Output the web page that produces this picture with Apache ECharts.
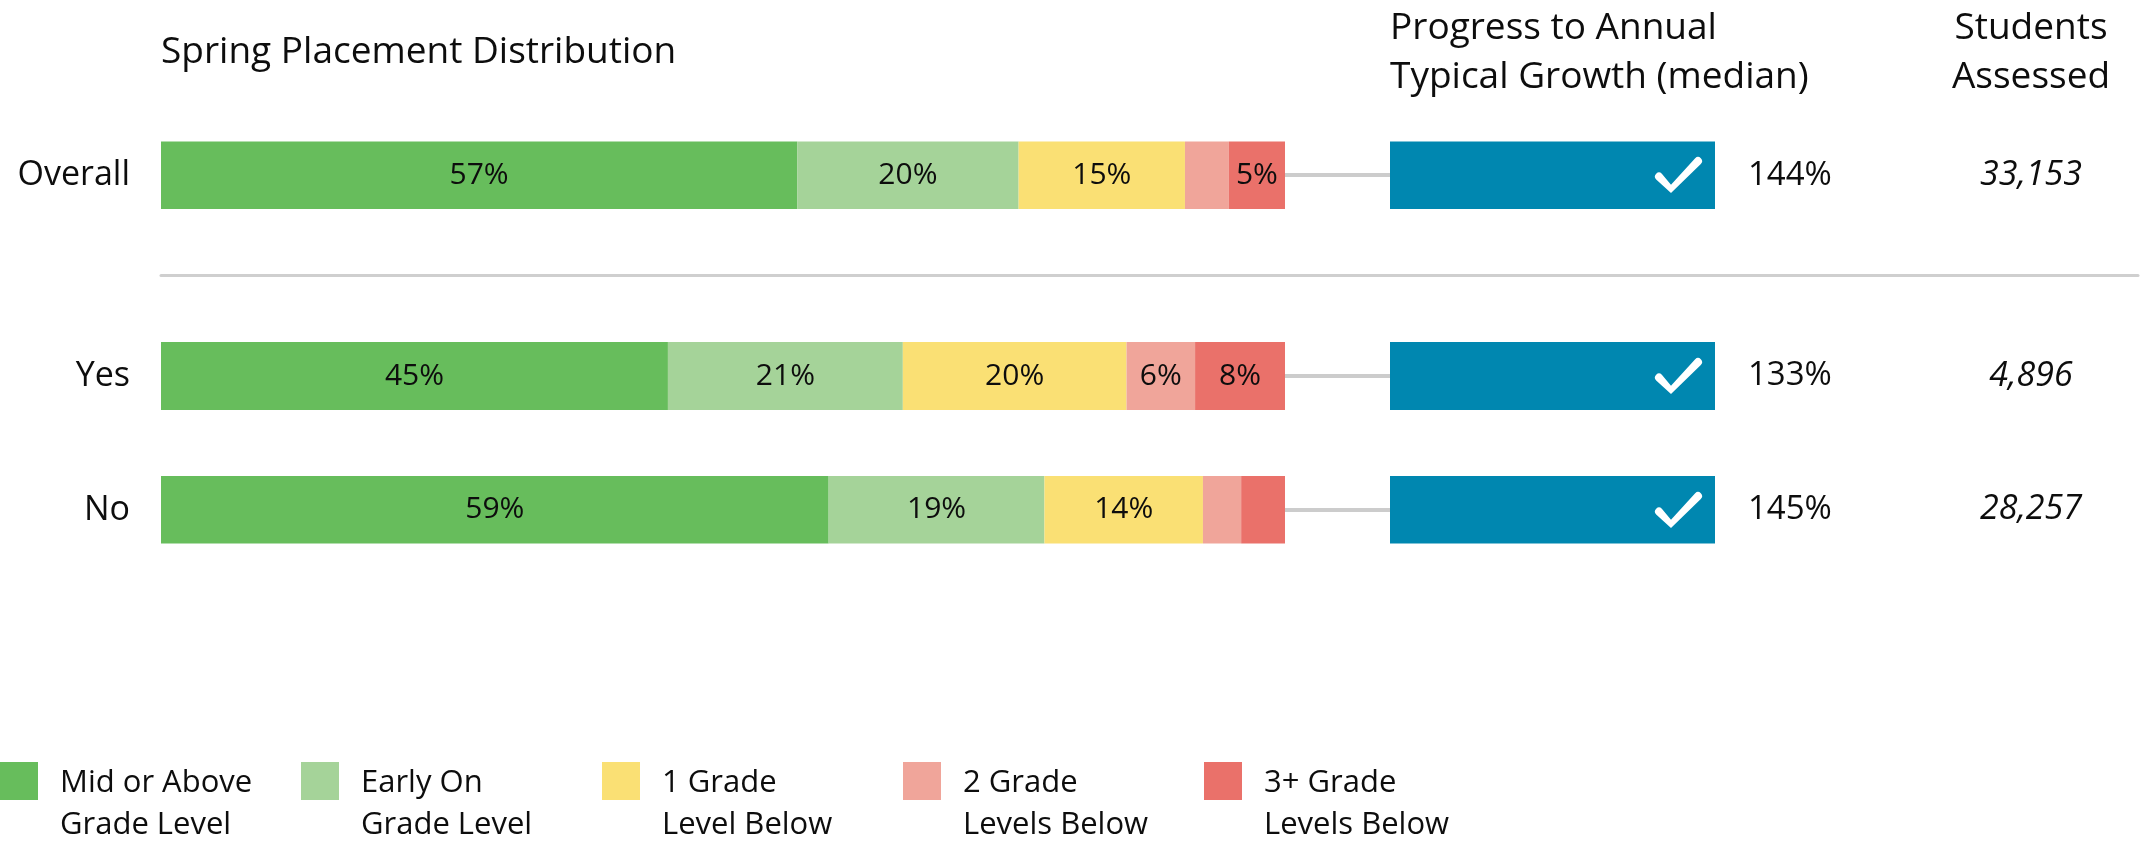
<!DOCTYPE html>
<html>
<head>
<meta charset="utf-8">
<title>Spring Placement Distribution</title>
<script src="https://cdn.jsdelivr.net/npm/echarts@6/dist/echarts.min.js"></script>
<style>
  html, body { margin: 0; padding: 0; background: #fff; }
  #chart { width: 2146px; height: 841px; }
</style>
</head>
<body>
<div id="chart"></div>
<script>
// ---- data ----
var groups = ['Overall', 'Yes', 'No'];

// placement shares (%), one entry per group
var midAbove  = [56.6, 45.1, 59.4];
var earlyOn   = [19.7, 20.9, 19.2];
var oneBelow  = [14.8, 19.9, 14.1];
var twoBelow  = [3.9, 6.1, 3.4];
var threePlus = [5.0, 8.0, 3.9];

var levelNames = [
    'Mid or Above\nGrade Level',
    'Early On\nGrade Level',
    '1 Grade\nLevel Below',
    '2 Grade\nLevels Below',
    '3+ Grade\nLevels Below'
];

var growthMedian = [144, 133, 145];      // progress to annual typical growth, %
var metTypical = [true, true, true];      // check mark shown
var studentsAssessed = [33153, 4896, 28257];

// ---- layout / style ----
// category slots on the y axis, blanks are spacers between the rows
var axisRows = ['Overall', '', '', 'Yes', '', 'No'];
var levelColors = ['#67BD5C', '#A5D399', '#FAE074', '#F0A59A', '#EA716A'];
var FONT = "'Open Sans', sans-serif";
var INK = '#0d0d0d';
var CHECK = 'path://M6.83 16.17A4 4 0 0 0 1.17 21.83L16 35L45.83 6.83A4 4 0 0 0 40.17 1.17L16 27Z';

function onRows(arr) {
    return axisRows.map(function (r) {
        var i = groups.indexOf(r);
        return i < 0 ? '-' : arr[i];
    });
}
function lookup(arr, name) {
    return arr[groups.indexOf(name)];
}

var dom = document.getElementById('chart');
var myChart = echarts.init(dom);

var levels = [midAbove, earlyOn, oneBelow, twoBelow, threePlus];
var series = levels.map(function (vals, k) {
    return {
        type: 'bar',
        name: levelNames[k],
        stack: 'placement',
        xAxisIndex: 0,
        yAxisIndex: 0,
        barWidth: 68,
        data: onRows(vals),
        itemStyle: { color: levelColors[k] },
        label: {
            show: true,
            position: 'inside',
            fontFamily: FONT,
            fontSize: 30,
            color: INK,
            formatter: function (p) {
                return p.value < 4.5 ? '' : Math.round(p.value) + '%';
            }
        }
    };
});

var ones = onRows(metTypical.map(function (m) { return m ? 1 : 0; }));

// grey connector between the two bars
series.push({
    type: 'bar',
    name: 'connector',
    xAxisIndex: 1,
    yAxisIndex: 1,
    barWidth: 4,
    silent: true,
    data: onRows(groups.map(function () { return 1; })),
    itemStyle: { color: '#cccccc' }
});

// blue "met typical growth" bar, with the growth value beside it
series.push({
    type: 'bar',
    name: 'progress',
    xAxisIndex: 2,
    yAxisIndex: 2,
    barWidth: 68,
    data: ones,
    itemStyle: { color: '#0087B0' },
    label: {
        show: true,
        position: 'right',
        distance: 33,
        fontFamily: FONT,
        fontSize: 33,
        color: INK,
        formatter: function (p) { return lookup(growthMedian, p.name) + '%'; }
    }
});
// check mark at the end of the blue bar
series.push({
    type: 'pictorialBar',
    name: 'check',
    xAxisIndex: 2,
    yAxisIndex: 2,
    silent: true,
    data: ones,
    symbol: CHECK,
    symbolSize: [47, 36],
    symbolPosition: 'end',
    symbolOffset: [-13, 0],
    itemStyle: { color: '#ffffff' },
    z: 5
});

// students assessed column
series.push({
    type: 'bar',
    name: 'students',
    xAxisIndex: 3,
    yAxisIndex: 3,
    barWidth: 68,
    silent: true,
    data: onRows(groups.map(function () { return 1; })),
    itemStyle: { color: 'rgba(0,0,0,0)' },
    label: {
        show: true,
        position: 'inside',
        fontFamily: FONT,
        fontStyle: 'italic',
        fontSize: 34,
        color: INK,
        formatter: function (p) {
            return lookup(studentsAssessed, p.name).toLocaleString('en-US');
        }
    }
});

var gridTop = 141.5, slot = 67;
var grids = [
    { left: 161, top: gridTop, width: 1124, height: slot * 6 },   // placement
    { left: 1285, top: gridTop, width: 105, height: slot * 6 },   // connector
    { left: 1390, top: gridTop, width: 325, height: slot * 6 },   // progress
    { left: 1961, top: gridTop, width: 140, height: slot * 6 },   // students
    { left: 161, top: gridTop, width: 1977, height: slot * 2 }    // divider under "Overall"
];

var xAxes = grids.map(function (g, i) {
    var ax = { type: 'value', gridIndex: i, min: 0, max: i === 0 ? 100 : 1, show: false };
    if (i === 4) {
        ax.show = true;
        ax.position = 'bottom';
        ax.axisLine = { show: true, lineStyle: { color: '#cfcfcf', width: 3 } };
        ax.axisTick = { show: false };
        ax.axisLabel = { show: false };
        ax.splitLine = { show: false };
    }
    return ax;
});
var yAxes = grids.map(function (g, i) {
    var ax = {
        type: 'category',
        gridIndex: i,
        data: i === 4 ? ['Overall', ''] : axisRows,
        inverse: true,
        show: i === 0,
        axisLine: { show: false },
        axisTick: { show: false },
        axisLabel: { show: false },
        splitLine: { show: false }
    };
    if (i === 0) {
        ax.axisLabel = {
            show: true,
            interval: 0,
            margin: 31,
            fontFamily: FONT,
            fontSize: 34,
            color: INK
        };
    }
    return ax;
});

var titleStyle = { fontFamily: FONT, fontSize: 37, fontWeight: 'normal', color: INK, lineHeight: 49 };

var option = {
    animation: false,
    backgroundColor: '#ffffff',
    textStyle: { fontFamily: FONT },
    title: [
        {
            text: 'Spring Placement Distribution',
            left: 161, top: 28, padding: 0,
            textStyle: titleStyle
        },
        {
            text: 'Progress to Annual\nTypical Growth (median)',
            left: 1390, top: 4, padding: 0,
            textStyle: titleStyle
        },
        {
            text: 'Students\nAssessed',
            left: 2031, top: 4, padding: 0,
            textAlign: 'center',
            textStyle: titleStyle
        }
    ],
    legend: {
        data: levelNames,
        left: 0,
        top: 762,
        padding: 0,
        itemGap: 10,
        itemWidth: 55,
        itemHeight: 84,
        // square in the top-left corner of the icon box, aligned with the first text line
        icon: 'path://M0 0H38V38H0Z M55 84H55.01V84.01H55Z',
        selectedMode: false,
        textStyle: {
            fontFamily: FONT,
            fontSize: 31,
            lineHeight: 42,
            width: 231,
            color: INK
        }
    },
    grid: grids,
    xAxis: xAxes,
    yAxis: yAxes,
    series: series
};

myChart.setOption(option, true);
</script>
</body>
</html>
